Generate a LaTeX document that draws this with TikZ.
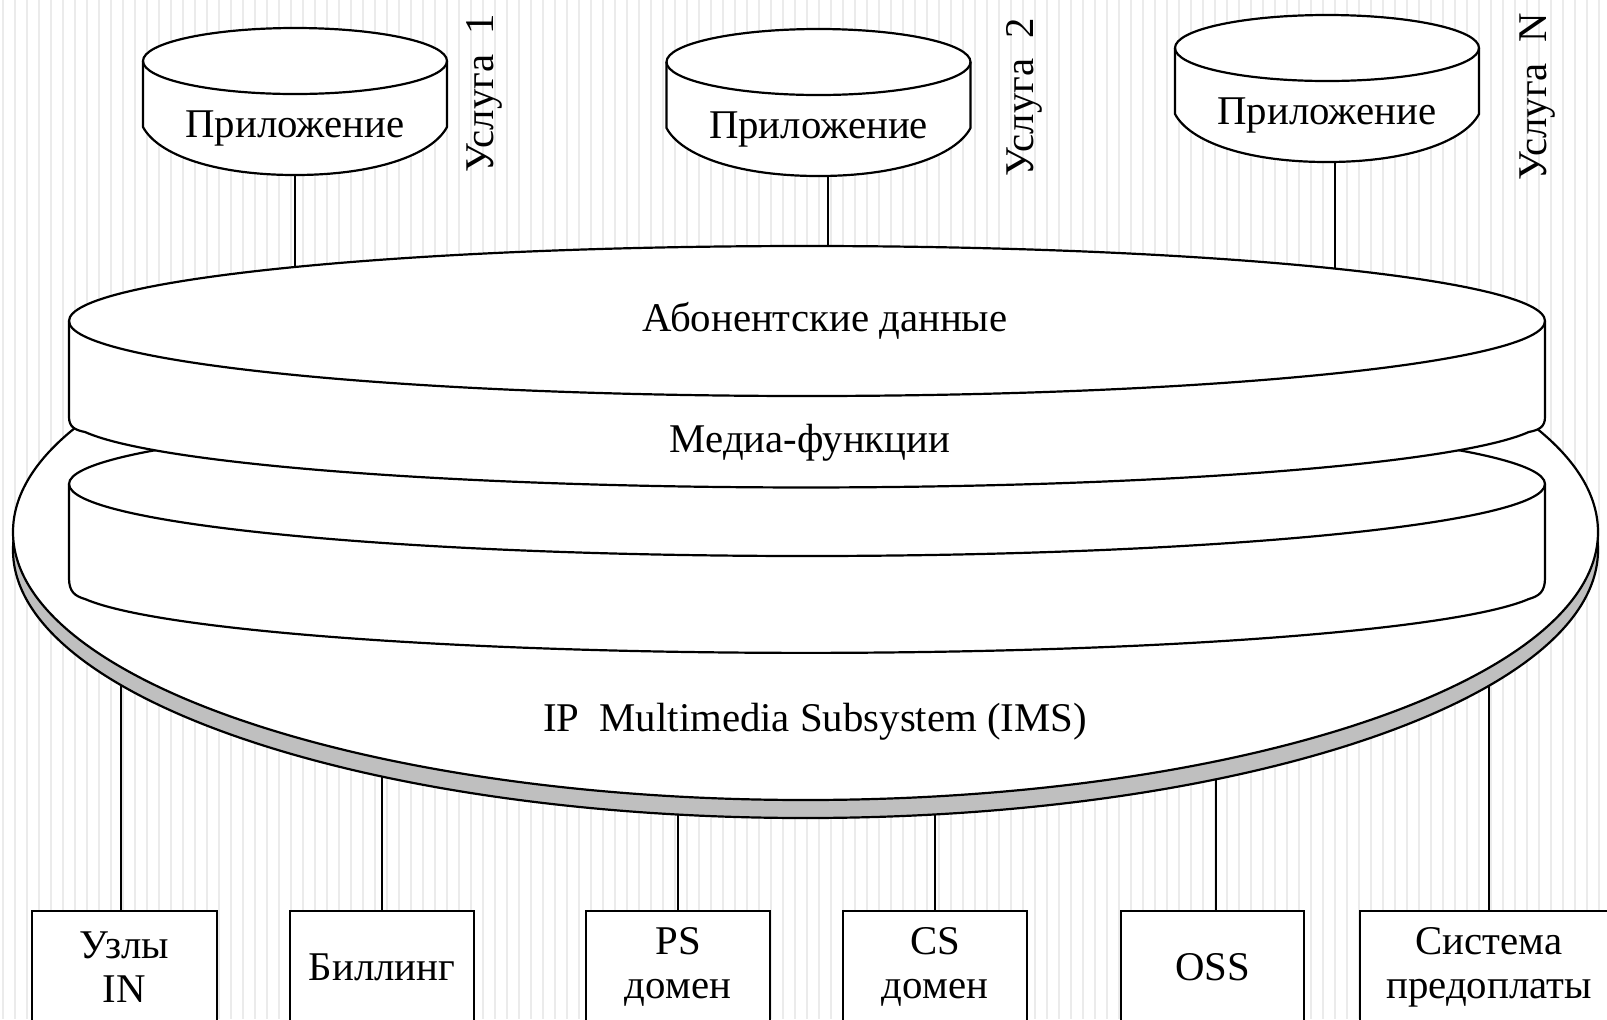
\documentclass[tikz,border=0pt]{standalone}
\usepackage{fontspec}
\setmainfont{Liberation Serif}

% Application cylinder: #1 name, #2 centre x, #3 centre y of the top ellipse, #4 x offset of the link point
\newcommand\appdisk[4]{%
  \begin{scope}[shift={(#2,#3)}]
    \path[outline] (-152,0) -- (-152,66)
      .. controls (-137,94) and (-80,114) .. (0,114)
      .. controls (80,114) and (137,94) .. (152,66)
      -- (152,0) arc[start angle=0,end angle=-180,x radius=152,y radius=33] -- cycle;
    \draw[edge] (-152,0) arc[start angle=180,end angle=0,x radius=152,y radius=33];
    \node[lbl] (#1) at (0,67) {Приложение};
    \coordinate (#1-base) at (#4,113);
  \end{scope}}

\begin{document}
\begin{tikzpicture}[x=0.5pt,y=-0.5pt,
  outline/.style={draw=black,line width=1.1pt,fill=white},
  edge/.style={draw=black,line width=1.1pt},
  stripe/.style={draw=black!8,line width=1.1pt},
  rimfill/.style={draw=black,line width=1.1pt,fill=black!25},
  lbl/.style={inner sep=0pt,font=\fontsize{20.4}{22}\selectfont},
  boxnode/.style={draw=black,line width=1.1pt,fill=white,minimum height=56pt,
    align=center,inner sep=0pt,font=\fontsize{20.4}{22}\selectfont}]

  \useasboundingbox (0,0) rectangle (1607,1019);
  \clip (0,0) rectangle (1607,1019);

  % striped background
  \fill[white] (0,0) rectangle (1607,1019);
  \foreach \sx in {3,15,...,1607} \draw[stripe] (\sx,0) -- (\sx,1019);

  % reference points inside the disks (link ends are hidden by the disk fills)
  \coordinate (topdisk) at (807,340);
  \coordinate (imsdisk) at (805,560);

  % applications
  \appdisk{app1}{295}{61}{0}
  \appdisk{app2}{818.5}{62}{9.5}
  \appdisk{app3}{1327}{48}{8}

  % external systems
  \node[boxnode,minimum width=92.5pt] (b1) at (124.5,967) {Узлы\\IN};
  \node[boxnode,minimum width=92pt]   (b2) at (382,967)   {Биллинг};
  \node[boxnode,minimum width=92pt]   (b3) at (678,967)   {PS\\домен};
  \node[boxnode,minimum width=92pt]   (b4) at (935,967)   {CS\\домен};
  \node[boxnode,minimum width=91.5pt] (b5) at (1212.5,967){OSS};
  \node[boxnode,minimum width=129pt]  (b6) at (1489,967)  {Система\\предоплаты};

  % links
  \foreach \a in {app1,app2,app3}
    \draw[edge] (\a-base) -- (\a-base |- topdisk);
  \foreach \b/\dx in {b1/-1.75pt,b2/0pt,b3/0pt,b4/0pt,b5/1.75pt,b6/0pt}
    \draw[edge] ([xshift=\dx]\b.north) -- ([xshift=\dx]\b.north |- imsdisk);

  % IMS platform with its grey rim
  \draw[rimfill] (805.5,550) ellipse[x radius=792.5,y radius=268];
  \draw[outline] (805.5,532) ellipse[x radius=792.5,y radius=268];

  % lower layer
  \path[outline] (69,484) -- (69,578) .. controls (69,592) and (75,596) .. (85,599)
    arc[start angle=168,end angle=12,x radius=738,y radius=68]
    .. controls (1539,596) and (1545,592) .. (1545,578) -- (1545,484)
    arc[start angle=0,end angle=-180,x radius=738,y radius=72] -- cycle;
  \draw[edge] (69,484) arc[start angle=180,end angle=0,x radius=738,y radius=72];

  % upper layer
  \path[outline] (69,321) -- (69,417) .. controls (69,427) and (75,430) .. (85,432)
    arc[start angle=168,end angle=12,x radius=738,y radius=70]
    .. controls (1539,430) and (1545,427) .. (1545,417) -- (1545,321)
    arc[start angle=0,end angle=-180,x radius=738,y radius=75] -- cycle;
  \draw[edge] (69,321) arc[start angle=180,end angle=0,x radius=738,y radius=75];

  % labels
  \node[lbl] (subs)  at (825,321) {Абонентские данные};
  \node[lbl] (media) at (810,443) {Медиа-функции};
  \node[lbl] (ims)   at (815,722) {IP~~Multimedia Subsystem (IMS)};
  \node[lbl,rotate=90] (svc1) at (484,93)  {Услуга~~1};
  \node[lbl,rotate=90] (svc2) at (1024,97) {Услуга~~2};
  \node[lbl,rotate=90] (svcN) at (1538,97) {Услуга~~N};
\end{tikzpicture}
\end{document}
